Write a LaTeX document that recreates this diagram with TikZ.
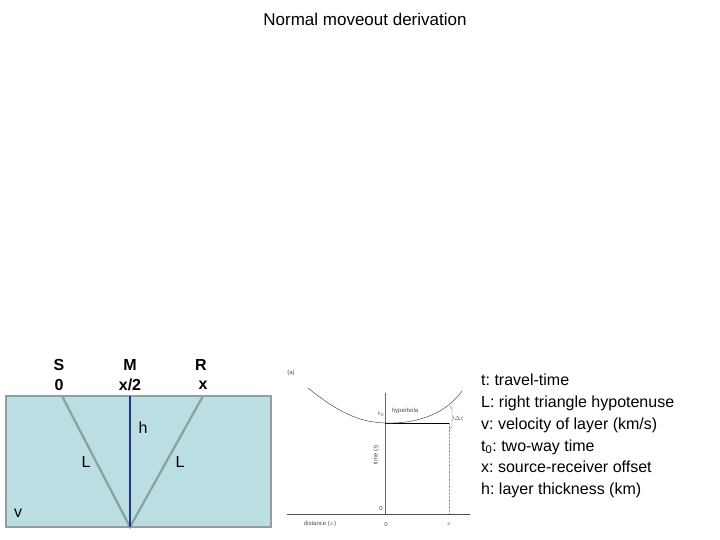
\documentclass[tikz,border=0pt]{standalone}
\usepackage{fontspec}
\setmainfont{Liberation Sans}
\frenchspacing
\definecolor{water}{RGB}{186,222,226}
\definecolor{rim}{RGB}{140,160,160}
\definecolor{navy}{RGB}{40,50,140}
\begin{document}
\begin{tikzpicture}[x=1pt,y=-1pt,
  lbl/.style={inner sep=0pt,font=\fontsize{16}{18}\selectfont},
  blbl/.style={lbl,font=\fontsize{16}{18}\selectfont\bfseries},
  tiny/.style={inner sep=0pt,font=\fontsize{6}{7}\selectfont,text=black!70},
  ray/.style={draw=rim,line width=2.2pt}]
\useasboundingbox (0,0) rectangle (720,540);
\node[lbl,font=\fontsize{17}{19}\selectfont] (title) at (365,19) {Normal moveout derivation};
% model
\node[draw=rim,line width=2.2pt,fill=water,minimum width=265pt,minimum height=131pt,inner sep=0pt] (box) at (138.5,461.5) {};
\coordinate (s) at (62,396); \coordinate (m) at (130,396); \coordinate (r) at (203,396); \coordinate (b) at (130,527);
\draw[ray] (s) -- (b) -- (r);
\draw[draw=navy,line width=2.5pt] (m) -- (b);
\node[blbl] (S) at (59,365) {S}; \node[blbl] (S0) at (59,385) {0};
\node[blbl] (M) at (130,365) {M}; \node[blbl] (M0) at (130,385) {x/2};
\node[blbl] (R) at (201,365) {R}; \node[blbl] (R0) at (203,385) {x};
\node[lbl] (h) at (143,428) {h};
\node[lbl] (L1) at (86,462) {L};
\node[lbl] (L2) at (180,462) {L};
\node[lbl] (v) at (18,513) {v};
% graph
\coordinate (ya) at (385,393); \coordinate (o) at (385,514);
\coordinate (xl) at (287,514); \coordinate (xr) at (470,514);
\coordinate (t0) at (385,423); \coordinate (xt) at (449,423); \coordinate (xb) at (449,514);
\draw[black!60,line width=0.5pt] (ya) -- (o);
\draw[black!70,line width=0.7pt] (xl) -- (xr);
\draw[black,line width=1pt] (t0) -- (xt);
\draw[black!40,densely dotted] (xt) -- (xb);
\draw[black!70,line width=0.5pt] (308,388) .. controls (345,418) and (365,422) .. (385,423) .. controls (415,424) and (445,415) .. (462,391);
\draw[black!60,line width=0.4pt] (450,406) .. controls (455,410) and (449,415) .. (454,418) .. controls (449,421) and (455,426) .. (450,429);
\node[tiny] (a) at (291,373) {(a)};
\node[tiny] (t0l) at (381,414) {$t_0$};
\node[tiny] (hyp) at (405,411) {hyperbola};
\node[tiny] (dt) at (459,418) {$\Delta t$};
\node[tiny,rotate=90] (tt) at (376,455) {time ($t$)};
\node[tiny] (z1) at (381,508) {0};
\node[tiny] (dist) at (320,524) {distance ($x$)};
\node[tiny] (z2) at (386,524) {0};
\node[tiny] (xx) at (449,524) {$x$};
% legend
\node[lbl,anchor=north west,align=left,font=\fontsize{16}{21.8}\selectfont] (legend) at (481,374) {t: travel-time\\L: right triangle hypotenuse\\v: velocity of layer (km/s)\\t\textsubscript{0}: two-way time\\x: source-receiver offset\\h: layer thickness (km)};
\end{tikzpicture}
\end{document}
